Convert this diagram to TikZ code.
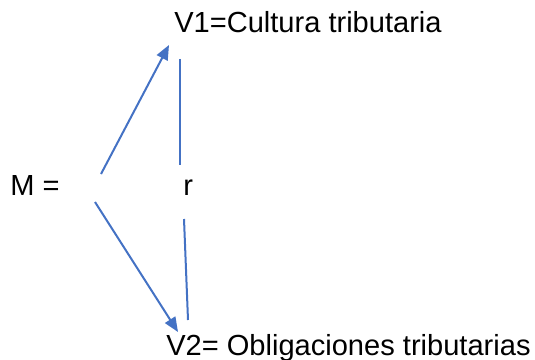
\documentclass[tikz,border=0pt]{standalone}
\usepackage{fontspec}
\setmainfont{Liberation Sans}
\usepackage{tikz}
\usetikzlibrary{positioning, arrows.meta}

\definecolor{linkblue}{HTML}{4472C4}

\begin{document}
\begin{tikzpicture}[x=0.75pt, y=-0.75pt,
  txt/.style={inner sep=0pt, anchor=base west, font=\fontsize{21.8pt}{26pt}\selectfont},
  link/.style={draw=linkblue, line width=1.5pt},
  arr/.style={link, -{Triangle[length=11pt, width=9pt]}}]

\useasboundingbox (0,0) rectangle (535,360);

% Nodes
\node (v1) [txt] at (174,33) {V1=Cultura tributaria};
\node (m)  [txt] at (10,195) {M =};
\node (r)  [txt] at (183,195) {r};
\node (v2) [txt] at (166,355) {V2= Obligaciones tributarias};

% Ends
\coordinate (m1) at (101,174);
\coordinate (m2) at (95,202);
\coordinate (t1) at (169,45);
\coordinate (t2) at (178,332);
\coordinate (r1) at (180,59);
\coordinate (r2) at (180,165);
\coordinate (r3) at (184,219);
\coordinate (r4) at (188,320);

% Arrows
\draw[arr] (m1) -- (t1);
\draw[arr] (m2) -- (t2);
\draw[link] (r1) -- (r2);
\draw[link] (r3) -- (r4);

\end{tikzpicture}
\end{document}
